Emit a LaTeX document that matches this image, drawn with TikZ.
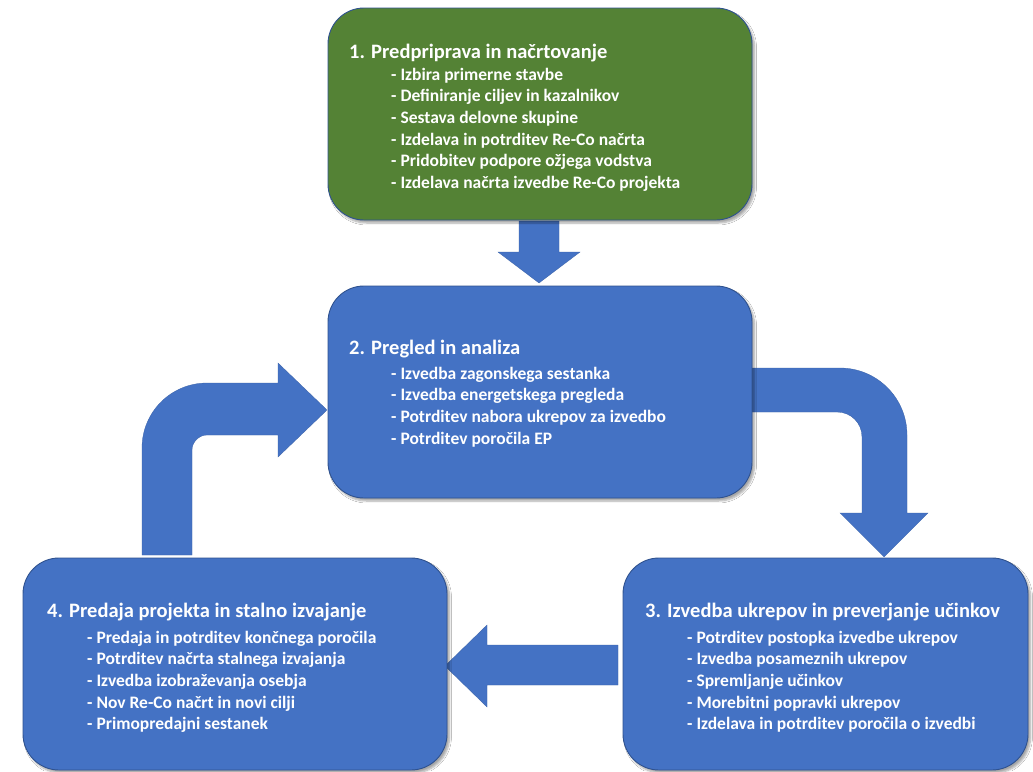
\documentclass[tikz,border=0pt]{standalone}
\usepackage{fontspec}
\setmainfont{Carlito}
\usetikzlibrary{shadows.blur}
\definecolor{gfill}{HTML}{548235}
\definecolor{bfill}{HTML}{4472C4}
\definecolor{edgec}{HTML}{2F528F}
\tikzset{
  stagebox/.style={rectangle, rounded corners=36pt, minimum height=212pt, draw=edgec, line width=0.9pt,
    inner sep=0pt, blur shadow={shadow xshift=2.5pt, shadow yshift=-3pt, shadow blur steps=6, shadow opacity=35}},
  blockarrow/.style={fill=bfill, draw=bfill!85!black, line width=0.3pt},
  ttl/.style={anchor=base west, inner sep=0pt, text=white, font=\fontsize{20.5}{24}\selectfont\bfseries},
  itm/.style={anchor=base west, inner sep=0pt, text=white, font=\fontsize{17.5}{21}\selectfont\bfseries}
}
\begin{document}
\begin{tikzpicture}[x=1pt, y=-1pt]
\useasboundingbox (0,0) rectangle (1033,771);
\fill[white] (0,0) rectangle (1033,771);

% block arrows
\draw[blockarrow] (519,221) -- (559,221) -- (559,252) -- (580,252) -- (539,283) -- (498,252) -- (519,252) -- cycle;
\draw[blockarrow] (750,368) -- (840,368) .. controls (877,368) and (907,398) .. (907,435)
  -- (907,513) -- (928,513) -- (884,557) -- (840,513) -- (862,513) -- (862,437)
  .. controls (862,423) and (851,412) .. (837,412) -- (750,412) -- cycle;
\draw[blockarrow] (618,645) -- (487,645) -- (487,625) -- (445,666) -- (487,707) -- (487,685) -- (618,685) -- cycle;
\draw[blockarrow] (142,555) -- (142,448) .. controls (142,412) and (171,383) .. (207,383)
  -- (278,383) -- (278,363) -- (327,410) -- (278,457) -- (278,435) -- (207,435)
  .. controls (199,435) and (192,442) .. (192,450) -- (192,555) -- cycle;

% boxes
\node[stagebox, fill=gfill, minimum width=424pt] (b1) at (540,114) {};
\node[stagebox, fill=bfill, minimum width=424pt] (b2) at (540,392) {};
\node[stagebox, fill=bfill, minimum width=405pt] (b3) at (825.5,664) {};
\node[stagebox, fill=bfill, minimum width=424pt] (b4) at (235,664) {};

% box 1
\node[ttl] (t1) at (349,58) {1. Predpriprava in načrtovanje};
\foreach \t [count=\i] in {Izbira primerne stavbe, Definiranje ciljev in kazalnikov, Sestava delovne skupine,
  Izdelava in potrditev Re-Co načrta, Pridobitev podpore ožjega vodstva, Izdelava načrta izvedbe Re-Co projekta}
  \node[itm] (i1\i) at (391,{80+21.7*(\i-1)}) {- \t};

% box 2
\node[ttl] (t2) at (349,354) {2. Pregled in analiza};
\foreach \t [count=\i] in {Izvedba zagonskega sestanka, Izvedba energetskega pregleda,
  Potrditev nabora ukrepov za izvedbo, Potrditev poročila EP}
  \node[itm] (i2\i) at (391,{379+21.7*(\i-1)}) {- \t};

% box 3
\node[ttl] (t3) at (645,617) {3. Izvedba ukrepov in preverjanje učinkov};
\foreach \t [count=\i] in {Potrditev postopka izvedbe ukrepov, Izvedba posameznih ukrepov, Spremljanje učinkov,
  Morebitni popravki ukrepov, Izdelava in potrditev poročila o izvedbi}
  \node[itm] (i3\i) at (687,{643+21.7*(\i-1)}) {- \t};

% box 4
\node[ttl] (t4) at (47,617) {4. Predaja projekta in stalno izvajanje};
\foreach \t [count=\i] in {Predaja in potrditev končnega poročila, Potrditev načrta stalnega izvajanja,
  Izvedba izobraževanja osebja, Nov Re-Co načrt in novi cilji, Primopredajni sestanek}
  \node[itm] (i4\i) at (87,{643+21.7*(\i-1)}) {- \t};
\end{tikzpicture}
\end{document}
